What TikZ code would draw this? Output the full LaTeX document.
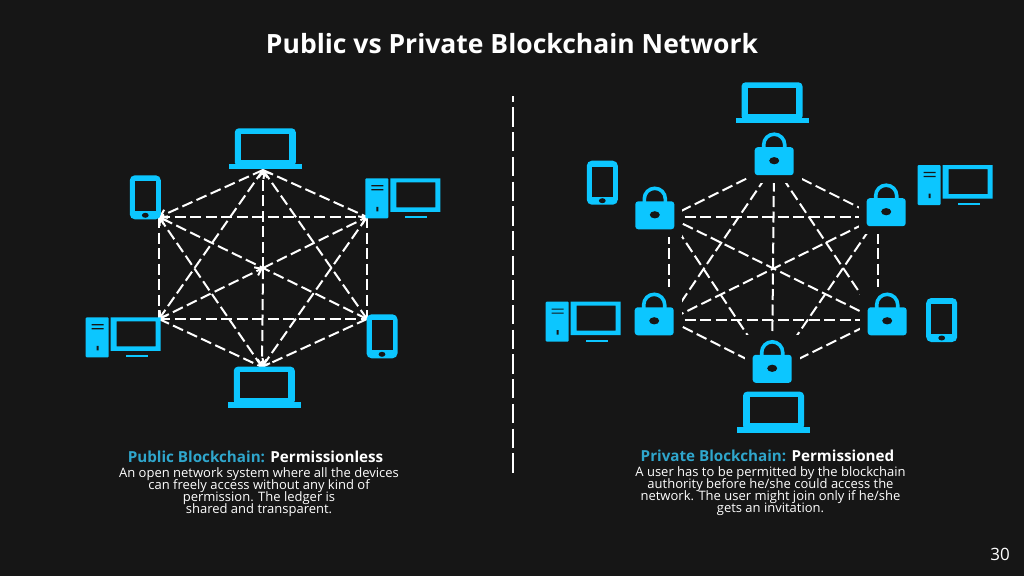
\documentclass[tikz,border=0pt]{standalone}
\usepackage{fontspec}
\usepackage{xcolor}
\usetikzlibrary{arrows.meta,positioning}
\setmainfont{Open Sans}
\definecolor{slidebg}{HTML}{161616}
\definecolor{iconblue}{HTML}{0CC6FF}
\definecolor{headblue}{HTML}{2FA6CC}
\tikzset{
  laptop/.pic={
    \fill[iconblue,rounded corners=4pt] (-30.5,-3) -- (-30.5,-41) -- (30.5,-41) -- (30.5,-3) -- cycle;
    \fill[slidebg] (-24,-9.5) rectangle (24,-35.5);
    \fill[iconblue] (-36.5,-5.5) rectangle (36.5,0);
  },
  phone/.pic={
    \fill[iconblue,rounded corners=5pt] (-15.5,-22) rectangle (15.5,22);
    \fill[slidebg] (-10.5,-16) rectangle (10.5,14);
    \fill[slidebg] (0,18) ellipse (3.4 and 2.5);
  },
  tower/.pic={
    \fill[iconblue,rounded corners=1pt] (0,0) rectangle (23,40);
    \fill[slidebg] (6,6.8) rectangle (18,8) (6,10.8) rectangle (18,12) (11,28.5) rectangle (13,33);
    \fill[iconblue,even odd rule] (25,0) rectangle (75,33.5) (31,4) rectangle (70,29);
    \fill[iconblue] (40,38) rectangle (62,40);
  },
  padlock/.pic={
    \fill[slidebg] (-27.5,-34) rectangle (27.5,22);
    \draw[iconblue,line width=3.6pt] (-10.5,-12) -- (-10.5,-16.5) arc[start angle=180,end angle=360,radius=10.5] -- (10.5,-12);
    \fill[iconblue,rounded corners=3pt] (-19.5,-14) rectangle (19.5,14);
    \fill[slidebg] (0,-0.5) ellipse (5 and 3.6);
  }
}
\begin{document}
\begin{tikzpicture}[x=1pt,y=-1pt,
   link/.style={draw=white,line width=2pt,dash pattern=on 11pt off 4.5pt},
   bar/.style={-{Straight Barb[length=6pt,width=9pt]}},
   txt/.style={text=white,align=center,inner sep=0pt,font=\fontsize{13}{12}\selectfont\lineskiplimit -20pt\relax},
   head/.style={inner sep=0pt,font=\fontsize{15.2}{16}\selectfont\bfseries}]
  \fill[slidebg] (0,0) rectangle (1024,576);
  \node[text=white,inner sep=0pt,font=\fontsize{26.5}{30}\selectfont\bfseries] (title) at (512,44) {Public vs Private Blockchain Network};
  \coordinate (divTop) at (513,96);
  \coordinate (divBot) at (513,474);
  \draw[draw=white,line width=2pt,dash pattern=on 19.3pt off 5.4pt,dash phase=13.3pt] (divTop) -- (divBot);

  % public side
  \coordinate (pubTop) at (263,170);
  \coordinate (pubUL) at (159,217);
  \coordinate (pubUR) at (367,217);
  \coordinate (pubLL) at (159,319);
  \coordinate (pubLR) at (367,319);
  \coordinate (pubBot) at (262,367);
  \coordinate (pubHub) at (263,268);
  \draw[link,bar] (pubTop) -- (pubUL);
  \draw[link] (pubTop) -- (pubUR);
  \draw[link] (pubUL) -- (pubUR);
  \draw[link] (pubUL) -- (pubLL);
  \draw[link] (pubUR) -- (pubLR);
  \draw[link] (pubLL) -- (pubLR);
  \draw[link] (pubLL) -- (pubBot);
  \draw[link] (pubLR) -- (pubBot);
  \draw[link,bar] (pubHub) -- (pubTop);
  \draw[link,bar] (pubHub) -- (pubBot);
  \draw[link,bar] (pubTop) -- (pubLL);
  \draw[link,bar] (pubLR) -- (pubTop);
  \draw[link,bar] (pubLR) -- (pubUL);
  \draw[link,bar] (pubBot) -- (pubUL);
  \draw[link,bar] (pubLL) -- (pubHub);
  \draw[link,bar] (pubHub) -- (pubUR);
  \draw[link,bar] (pubUR) -- (pubBot);
  \pic (lapPubA) at (265.3,169.3) {laptop};
  \pic (lapPubB) at (264.3,407.7) {laptop};
  \pic (phonePubA) at (145.3,197.3) {phone};
  \pic (phonePubB) at (382,336.3) {phone};
  \pic (pcPubA) at (365.3,178.3) {tower};
  \pic (pcPubB) at (85.7,317.3) {tower};

  % private side
  \coordinate (privTop) at (774,165);
  \coordinate (privUL) at (669,217);
  \coordinate (privUR) at (878,217);
  \coordinate (privLL) at (669,320);
  \coordinate (privLR) at (878,320);
  \coordinate (privBot) at (772,372);
  \draw[link] (privTop) -- (privUL);
  \draw[link] (privTop) -- (privUR);
  \draw[link] (privUL) -- (privUR);
  \draw[link] (privUL) -- (privLL);
  \draw[link] (privUR) -- (privLR);
  \draw[link] (privLL) -- (privLR);
  \draw[link] (privLL) -- (privBot);
  \draw[link] (privLR) -- (privBot);
  \draw[link] (privTop) -- (privBot);
  \draw[link] (privTop) -- (privLL);
  \draw[link] (privTop) -- (privLR);
  \draw[link] (privUL) -- (privLR);
  \draw[link] (privUL) -- (privBot);
  \draw[link] (privUR) -- (privLL);
  \draw[link] (privUR) -- (privBot);
  \pic (lockTop) at (774.2,161.2) {padlock};
  \pic (lockUL) at (654.8,215.3) {padlock};
  \pic (lockUR) at (886.2,212.2) {padlock};
  \pic (lockLL) at (654.2,321.3) {padlock};
  \pic (lockLR) at (887.2,321.3) {padlock};
  \pic (lockBot) at (772.2,368.8) {padlock};
  \pic (lapPrivA) at (772,123.3) {laptop};
  \pic (lapPrivB) at (773.5,432.7) {laptop};
  \pic (phonePrivA) at (602.3,182.7) {phone};
  \pic (phonePrivB) at (941.7,320) {phone};
  \pic (pcPrivA) at (917.7,165) {tower};
  \pic (pcPrivB) at (545.7,301.7) {tower};

  % captions
  \node[head] (pubHead) at (255.5,457) {\textcolor{headblue}{Public Blockchain:} \textcolor{white}{Permissionless}};
  \node[txt,below=4pt of pubHead,xshift=3.5pt] (pubText) {An open network system where all the devices\\can freely access without any kind of\\permission. The ledger is\\shared and transparent.};
  \node[head] (privHead) at (767.5,456) {\textcolor{headblue}{Private Blockchain:} \textcolor{white}{Permissioned}};
  \node[txt,below=4pt of privHead,xshift=3pt] (privText) {A user has to be permitted by the blockchain\\authority before he/she could access the\\network. The user might join only if he/she\\gets an invitation.};
  \node[text=white,inner sep=0pt,font=\fontsize{17}{18}\selectfont] (pageNo) at (1000,554) {30};
\end{tikzpicture}
\end{document}
